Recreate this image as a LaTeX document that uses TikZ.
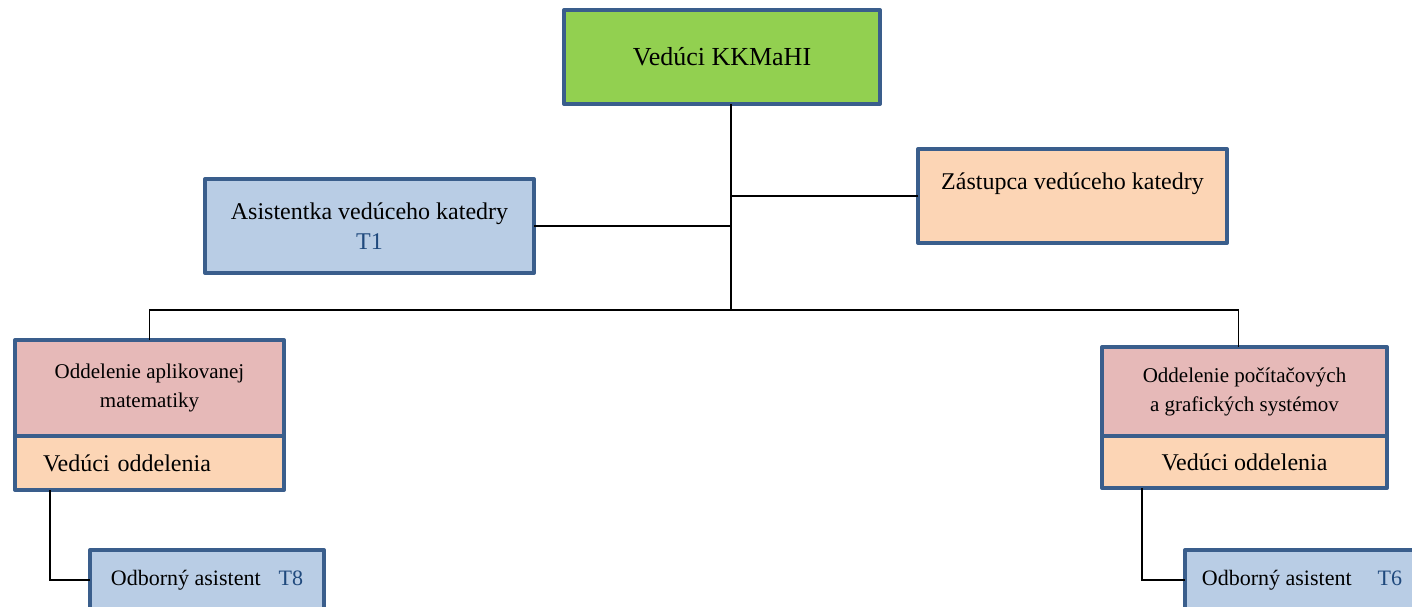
\documentclass[tikz,border=0pt]{standalone}
\usepackage{fontspec}
\setmainfont{Liberation Serif}
\usetikzlibrary{positioning}
\definecolor{boxline}{HTML}{3A5E8C}
\definecolor{kkgreen}{HTML}{92D050}
\definecolor{kkblue}{HTML}{B9CDE5}
\definecolor{kkpink}{HTML}{E6B9B8}
\definecolor{kkpeach}{HTML}{FCD5B5}
\definecolor{tcolor}{HTML}{1F497D}

\begin{document}
\begin{tikzpicture}[x=0.5pt, y=-0.5pt,
        box/.style={draw=boxline, line width=2pt, line join=round, outer sep=0pt, inner sep=0pt, align=center},
        wire/.style={draw=black, line width=0.8pt}]
    \useasboundingbox (0,0) rectangle (1412,606);
    \clip (0,0) rectangle (1412,606);

    % top of the chart
    \node[box, fill=kkgreen, minimum width=158pt, minimum height=47pt, font=\fontsize{13}{15}\selectfont] (veduci) at (722,57) {Vedúci KKMaHI};
    \node[box, fill=kkblue, minimum width=164.5pt, minimum height=47pt, font=\fontsize{12}{15}\selectfont] (asistentka) at (369.5,226) {Asistentka vedúceho katedry\\ \textcolor{tcolor}{T1}};
    \node[box, fill=kkpeach, minimum width=154.5pt, minimum height=47pt, font=\fontsize{12}{15}\selectfont] (zastupca) at (1072.5,196) {Zástupca vedúceho katedry\\ \mbox{}};

    % departments
    \node[box, fill=kkpink, minimum width=134.5pt, minimum height=48pt, font=\fontsize{10.5}{14.5}\selectfont] (oam) at (149.5,388) {Oddelenie aplikovanej\\ matematiky};
    \node[box, fill=kkpeach, minimum width=134.5pt, minimum height=27pt, text width=106.5pt, align=left, font=\fontsize{12}{14}\selectfont, below=0pt of oam] (vo1) {Vedúci oddelenia};
    \node[box, fill=kkpink, minimum width=142.5pt, minimum height=44.5pt, font=\fontsize{10.5}{14.5}\selectfont] (opgs) at (1244.5,391.5) {Oddelenie počítačových\\ a grafických systémov};
    \node[box, fill=kkpeach, minimum width=142.5pt, minimum height=26pt, font=\fontsize{12}{14}\selectfont, below=0pt of opgs] (vo2) {Vedúci oddelenia};

    % staff
    \node[box, fill=kkblue, minimum width=117pt, minimum height=30pt, font=\fontsize{11}{13}\selectfont] (odb1) at (207,580) {Odborný asistent\hspace{9pt}\textcolor{tcolor}{T8}};
    \node[box, fill=kkblue, minimum width=117pt, minimum height=30pt, font=\fontsize{11}{13}\selectfont] (odb2) at (1302,580) {Odborný asistent\hspace{13pt}\textcolor{tcolor}{T6}};

    % connectors
    \coordinate (trunk) at ([xshift=4.5pt]veduci.south);
    \coordinate (bus) at (trunk |- 0,310);
    \draw[wire] (trunk) -- (bus);
    \draw[wire] (asistentka.east) -- (asistentka.east -| trunk);
    \draw[wire] (zastupca.west) -- (zastupca.west -| trunk);
    \draw[wire] (oam.north) |- (bus) -| ([xshift=-3pt]opgs.north);
    \draw[wire] ([xshift=17.5pt]vo1.south west) |- (odb1.west);
    \draw[wire] ([xshift=20pt]vo2.south west) |- (odb2.west);
\end{tikzpicture}
\end{document}
